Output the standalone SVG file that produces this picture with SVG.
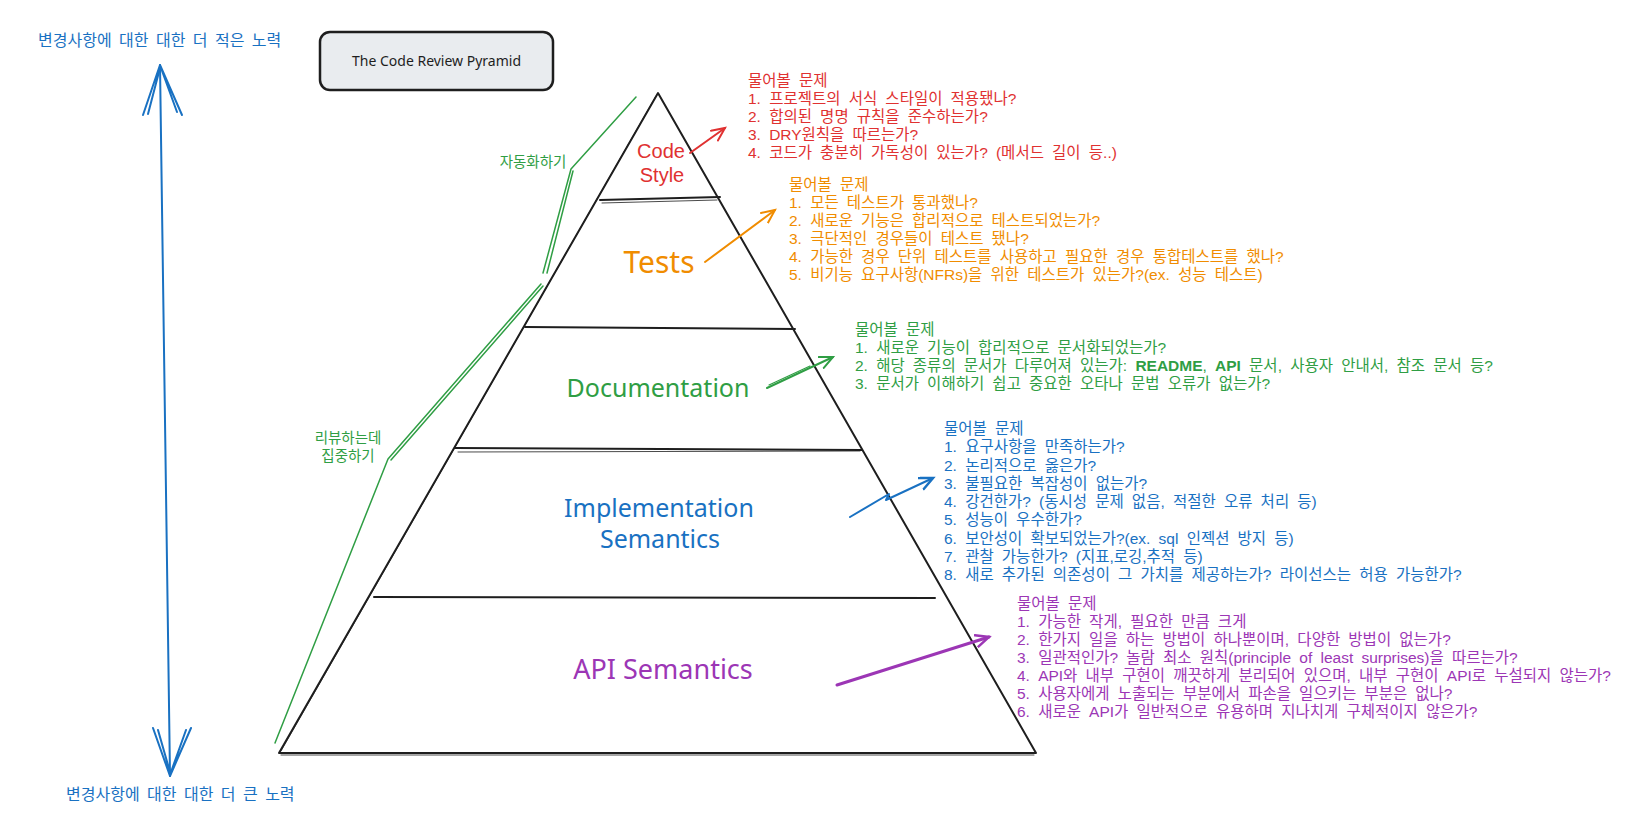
<svg xmlns="http://www.w3.org/2000/svg" width="1630" height="824" viewBox="0 0 1630 824">
<defs>
<style>
.kr{font-family:"Liberation Sans","Noto Sans CJK KR",sans-serif;}
.lst{font-size:15.5px;word-spacing:3.9px;}
.lbl{font-family:"Noto Sans","Noto Sans CJK KR",sans-serif;text-anchor:middle;}
.lbl2{font-family:"Liberation Sans",sans-serif;text-anchor:middle;}
.edge{fill:none;stroke:#1e1e1e;stroke-width:2;stroke-linecap:round;stroke-linejoin:round;}
.edge2{fill:none;stroke:#1e1e1e;stroke-width:1;stroke-linecap:round;opacity:0.8;}
.red{fill:#e03131;} .org{fill:#f08c00;} .grn{fill:#2f9e44;} .blu{fill:#1971c2;} .pur{fill:#9c36b5;}
.gl{fill:none;stroke:#2f9e44;stroke-width:1.5;stroke-linecap:round;stroke-linejoin:round;}
.bl{fill:none;stroke:#1971c2;stroke-width:2;stroke-linecap:round;stroke-linejoin:round;}
</style>
<marker id="ah-red" markerUnits="userSpaceOnUse" markerWidth="20" markerHeight="16" refX="14" refY="7" orient="auto"><path d="M1,1 L14,7 L1,13" fill="none" stroke="#e03131" stroke-width="2" stroke-linecap="round"/></marker>
<marker id="ah-org" markerUnits="userSpaceOnUse" markerWidth="20" markerHeight="16" refX="14" refY="7" orient="auto"><path d="M1,1 L14,7 L1,13" fill="none" stroke="#f08c00" stroke-width="2" stroke-linecap="round"/></marker>
<marker id="ah-grn" markerUnits="userSpaceOnUse" markerWidth="20" markerHeight="16" refX="14" refY="7" orient="auto"><path d="M1,1 L14,7 L1,13" fill="none" stroke="#2f9e44" stroke-width="2" stroke-linecap="round"/></marker>
<marker id="ah-blu" markerUnits="userSpaceOnUse" markerWidth="20" markerHeight="16" refX="14" refY="7" orient="auto"><path d="M1,1 L14,7 L1,13" fill="none" stroke="#1971c2" stroke-width="2.5" stroke-linecap="round"/></marker>
<marker id="ah-pur" markerUnits="userSpaceOnUse" markerWidth="20" markerHeight="16" refX="14" refY="7" orient="auto"><path d="M1,1 L14,7 L1,13" fill="none" stroke="#9c36b5" stroke-width="2.5" stroke-linecap="round"/></marker>
</defs>
<rect width="1630" height="824" fill="#ffffff"/>

<g id="title">
<rect x="320" y="32" width="233" height="58" rx="10" fill="#e9ecef" stroke="#1e1e1e" stroke-width="2.5"/>
<text x="436.5" y="66" font-family="Noto Sans, sans-serif" font-size="14" fill="#1e1e1e" text-anchor="middle">The Code Review Pyramid</text>
</g>

<g id="effort-axis">
<path class="bl" d="M160,65 L170,776"/>
<path class="bl" d="M143,115 L160,65 L182,115 M148,114 L160,68 M177,112 L161,68"/>
<path class="bl" d="M153,728 L170,776 L191,728 M158,730 L170,772 M186,730 L171,772"/>
<text class="kr blu" x="38" y="46" font-size="16" word-spacing="3">변경사항에 대한 대한 더 적은 노력</text>
<text class="kr blu" x="66" y="800" font-size="16" word-spacing="3">변경사항에 대한 대한 더 큰 노력</text>
</g>

<g id="pyramid">
<polygon class="edge" points="658,93 1036,753 279,753"/>
<path class="edge2" d="M656,96 L281,751 M281,755 L1034,755"/>
<path class="edge" d="M600,200 L720,197"/>
<path class="edge2" d="M602,203 L717,200"/>
<path class="edge" d="M525,327 L795,329"/>
<path class="edge" d="M455,448 L862,450"/>
<path class="edge2" d="M458,452 L860,451"/>
<path class="edge" stroke-width="2.6" d="M374,597 L935,598"/>
</g>

<g id="code-style">
<text class="lbl2 red" x="661" y="158" font-size="20">Code</text>
<text class="lbl2 red" x="662" y="182" font-size="20">Style</text>
<text class="kr lst red">
<tspan x="748" y="86">물어볼 문제</tspan>
<tspan x="748" y="104">1. 프로젝트의 서식 스타일이 적용됐나?</tspan>
<tspan x="748" y="122">2. 합의된 명명 규칙을 준수하는가?</tspan>
<tspan x="748" y="140">3. DRY원칙을 따르는가?</tspan>
<tspan x="748" y="158">4. 코드가 충분히 가독성이 있는가? (메서드 길이 등..)</tspan>
</text>
</g>

<g id="tests">
<text class="lbl org" x="659" y="273" font-size="30">Tests</text>
<text class="kr lst org">
<tspan x="789" y="190">물어볼 문제</tspan>
<tspan x="789" y="208">1. 모든 테스트가 통과했나?</tspan>
<tspan x="789" y="226">2. 새로운 기능은 합리적으로 테스트되었는가?</tspan>
<tspan x="789" y="244">3. 극단적인 경우들이 테스트 됐나?</tspan>
<tspan x="789" y="262">4. 가능한 경우 단위 테스트를 사용하고 필요한 경우 통합테스트를 했나?</tspan>
<tspan x="789" y="280">5. 비기능 요구사항(NFRs)을 위한 테스트가 있는가?(ex. 성능 테스트)</tspan>
</text>
</g>

<g id="documentation">
<text class="lbl grn" x="658" y="397" font-size="25">Documentation</text>
<text class="kr lst grn">
<tspan x="855" y="335">물어볼 문제</tspan>
<tspan x="855" y="353">1. 새로운 기능이 합리적으로 문서화되었는가?</tspan>
<tspan x="855" y="371">2. 해당 종류의 문서가 다루어져 있는가: <tspan font-weight="bold">README</tspan>, <tspan font-weight="bold">API</tspan> 문서, 사용자 안내서, 참조 문서 등?</tspan>
<tspan x="855" y="389">3. 문서가 이해하기 쉽고 중요한 오타나 문법 오류가 없는가?</tspan>
</text>
</g>

<g id="implementation-semantics">
<text class="lbl blu" x="659" y="517" font-size="25">Implementation</text>
<text class="lbl blu" x="660" y="548" font-size="25">Semantics</text>
<text class="kr lst blu">
<tspan x="944" y="434">물어볼 문제</tspan>
<tspan x="944" y="452">1. 요구사항을 만족하는가?</tspan>
<tspan x="944" y="470.5">2. 논리적으로 옳은가?</tspan>
<tspan x="944" y="488.5">3. 불필요한 복잡성이 없는가?</tspan>
<tspan x="944" y="507">4. 강건한가? (동시성 문제 없음, 적절한 오류 처리 등)</tspan>
<tspan x="944" y="525">5. 성능이 우수한가?</tspan>
<tspan x="944" y="543.5">6. 보안성이 확보되었는가?(ex. sql 인젝션 방지 등)</tspan>
<tspan x="944" y="561.5">7. 관찰 가능한가? (지표,로깅,추적 등)</tspan>
<tspan x="944" y="580">8. 새로 추가된 의존성이 그 가치를 제공하는가? 라이선스는 허용 가능한가?</tspan>
</text>
</g>

<g id="api-semantics">
<text class="lbl pur" x="663" y="679" font-size="27">API Semantics</text>
<text class="kr lst pur">
<tspan x="1017" y="609">물어볼 문제</tspan>
<tspan x="1017" y="627">1. 가능한 작게, 필요한 만큼 크게</tspan>
<tspan x="1017" y="645">2. 한가지 일을 하는 방법이 하나뿐이며, 다양한 방법이 없는가?</tspan>
<tspan x="1017" y="663">3. 일관적인가? 놀람 최소 원칙(principle of least surprises)을 따르는가?</tspan>
<tspan x="1017" y="681">4. API와 내부 구현이 깨끗하게 분리되어 있으며, 내부 구현이 API로 누설되지 않는가?</tspan>
<tspan x="1017" y="699">5. 사용자에게 노출되는 부분에서 파손을 일으키는 부분은 없나?</tspan>
<tspan x="1017" y="717">6. 새로운 API가 일반적으로 유용하며 지나치게 구체적이지 않은가?</tspan>
</text>
</g>

<g id="automate-label">
<text class="kr grn" x="533" y="167" font-size="14.5" text-anchor="middle">자동화하기</text>
</g>
<g id="review-label">
<text class="kr grn" x="348" y="443" font-size="14.5" text-anchor="middle">리뷰하는데</text>
<text class="kr grn" x="348" y="461" font-size="14.5" text-anchor="middle">집중하기</text>
</g>

<g id="connectors">
<path class="gl" d="M636,97 L571,169 L543,273"/>
<path class="gl" d="M573,171 L547,273"/>
<path class="gl" d="M541,284 L388,459 L275,743"/>
<path class="gl" d="M543,286 L391,460"/>
<path d="M690,153 L725,128" fill="none" stroke="#e03131" stroke-width="2" stroke-linecap="round" marker-end="url(#ah-red)"/>
<path d="M705,262 L775,210" fill="none" stroke="#f08c00" stroke-width="2" stroke-linecap="round" marker-end="url(#ah-org)"/>
<path d="M767,388 L833,357" fill="none" stroke="#2f9e44" stroke-width="2" stroke-linecap="round" marker-end="url(#ah-grn)"/>
<path d="M769,385 L810,366" fill="none" stroke="#2f9e44" stroke-width="1.2" stroke-linecap="round"/>
<path d="M850,517 L889,494 L886,500 L933,478" fill="none" stroke="#1971c2" stroke-width="2" stroke-linecap="round" stroke-linejoin="round" marker-end="url(#ah-blu)"/>
<path d="M837,685 L989,637" fill="none" stroke="#9c36b5" stroke-width="3" stroke-linecap="round" marker-end="url(#ah-pur)"/>
</g>
</svg>
